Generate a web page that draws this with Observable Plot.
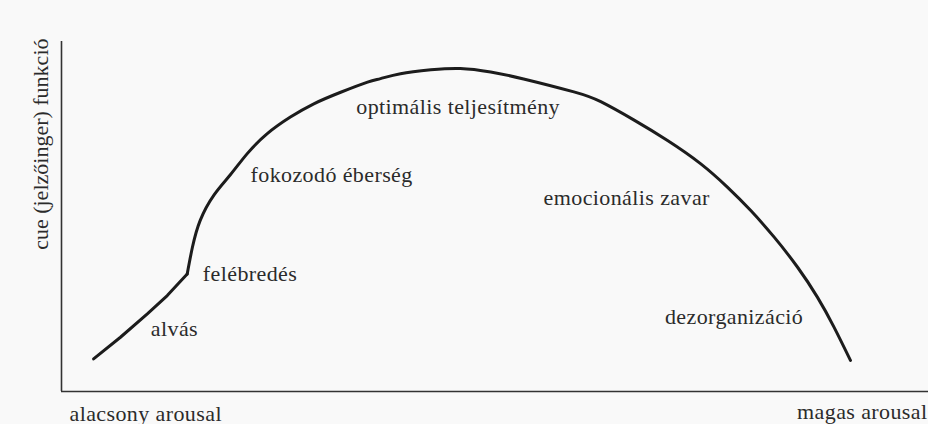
<!DOCTYPE html>
<html>
<head>
<meta charset="utf-8">
<script src="https://cdn.jsdelivr.net/npm/d3@7"></script>
<script src="https://cdn.jsdelivr.net/npm/@observablehq/plot@0.6"></script>
<style>
  html, body { margin: 0; padding: 0; background: #f9f9f9; }
  svg text { font-family: "Liberation Serif", "DejaVu Serif", "Times New Roman", Times, serif !important; }
</style>
</head>
<body>
<div id="chart"></div>
<script>
// Sleep → awakening segment (straight)
const sleepX = [3.7, 6.8, 9.9, 12.2, 14.5];
const sleepY = [9.3, 15.5, 22.2, 27.4, 33.6];

// Awakening → disorganisation (smooth inverted-U)
const arousalX = [14.5, 15.1, 16.0, 17.6, 19.5, 21.4, 23.7, 26.4, 29.1, 32.2, 35.3, 36.8, 39.1, 42.6, 46.0, 49.5, 53.3, 59.1, 62.2, 66.0, 69.9, 73.7, 76.8, 79.5, 82.2, 84.9, 87.2, 89.1, 91.0];
const cueY     = [33.6, 41.2, 48.9, 56.2, 62.0, 67.9, 73.6, 78.4, 82.2, 85.5, 88.4, 89.4, 90.8, 91.9, 92.3, 91.3, 89.3, 85.6, 82.8, 77.6, 71.7, 65.1, 58.4, 51.7, 44.1, 35.5, 26.9, 18.4, 8.9];

// Stage labels
const labelText = ["alvás", "felébredés", "fokozodó éberség", "optimális teljesítmény", "emocionális zavar", "dezorganizáció"];
const labelX = [10.3, 16.3, 21.8, 34.0, 55.6, 69.6];
const labelY = [16.0, 31.7, 59.8, 79.4, 53.4, 19.4];

// Axis texts
const xLabelLow = "alacsony arousal";
const xLabelHigh = "magas arousal";
const yLabel = "cue (jelzőinger) funkció";

const sleepData = sleepX.map((x, i) => ({x, y: sleepY[i]}));
const curveData = arousalX.map((x, i) => ({x, y: cueY[i]}));
const labelData = labelText.map((t, i) => ({t, x: labelX[i], y: labelY[i]}));

const ink = "#1c1c1c";
const textInk = "#2b2b2b";
const serif = "Liberation Serif, DejaVu Serif, serif";

const chart = Plot.plot({
  width: 928,
  height: 424,
  marginLeft: 61,
  marginRight: 0,
  marginTop: 41,
  marginBottom: 33,
  x: {domain: [0, 100], axis: null},
  y: {domain: [0, 100], axis: null},
  style: {background: "#f9f9f9", color: textInk},
  marks: [
    Plot.ruleX([0], {stroke: "#333", strokeWidth: 1.6}),
    Plot.ruleY([0], {stroke: "#333", strokeWidth: 1.6}),
    Plot.line(sleepData, {x: "x", y: "y", stroke: ink, strokeWidth: 3, strokeLinecap: "round"}),
    Plot.line(curveData, {x: "x", y: "y", stroke: ink, strokeWidth: 3, curve: "natural", strokeLinecap: "round"}),
    Plot.text(labelData, {x: "x", y: "y", text: "t", textAnchor: "start", lineAnchor: "bottom", fill: textInk, fontSize: 22, fontFamily: serif}),
    Plot.text([xLabelLow], {frameAnchor: "bottom-left", textAnchor: "start", lineAnchor: "bottom", dx: 8, dy: 29, fill: textInk, fontSize: 22, fontFamily: serif}),
    Plot.text([xLabelHigh], {frameAnchor: "bottom-right", textAnchor: "end", lineAnchor: "bottom", dx: -1, dy: 27, fill: textInk, fontSize: 22, fontFamily: serif}),
    Plot.text([yLabel], {frameAnchor: "top-left", rotate: -90, textAnchor: "end", lineAnchor: "bottom", dx: -14, dy: -3, fill: textInk, fontSize: 22, fontFamily: serif})
  ]
});

// Horizontal labels in the scan are slightly wider: add a little tracking
d3.select(chart).selectAll("text")
  .filter(function() { return !(this.getAttribute("transform") || "").includes("rotate"); })
  .style("letter-spacing", "0.4px");
document.getElementById("chart").appendChild(chart);
</script>
</body>
</html>
